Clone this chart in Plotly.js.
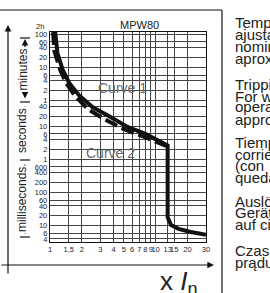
<!DOCTYPE html>
<html><head><meta charset="utf-8">
<script src="https://cdn.plot.ly/plotly-3.0.1.min.js"></script>
<style>html,body{margin:0;padding:0;background:#fff}#chart{width:270px;height:293px}</style>
</head><body><div id="chart"></div>
<script>
// x values: multiples of rated current (x In)
var xTickVals = [1,1.5,2,3,4,5,6,7,8,9,10,13,15,20,30];
var xTickText = ['1','1,5','2','3','4','5','6','7','8','9','10','13','15','20','30'];
// y values: tripping time in seconds
var yTickVals = [6000,3600,2400,1200,600,360,240,120,60,40,20,10,6,4,2,1,0.6,0.4,0.2,0.1,0.06,0.04,0.02,0.01,0.006,0.004];
var yTickText = ['100','60','40','20','10','6','4','2','1','40','20','10','6','4','2','1','600','400','200','100','60','40','20','10','6','4'];
// Curve 1 (solid)
var curve1X = [1.12,1.176,1.32,1.52,1.87,2.52,3.74,5.42,8.0,10.5,12.5,13,13,14,16.5,21,30];
var curve1Y = [7200,1670,512,207,90,39,19.4,9.7,6.0,3.8,2.9,2.7,0.018,0.0105,0.0081,0.0066,0.0054];
// Curve 2 (dashed)
var curve2X = [1.07,1.1,1.25,1.42,1.72,2.3,3.35,4.9,7.3,10,12.2,13];
var curve2Y = [7200,1900,512,207,85,33,16,8.6,5.3,3.4,2.7,2.6];

var FONT = 'Liberation Sans, Arial, sans-serif';
var W = 270, H = 293, L = 50, R = 64, T = 32, B = 51;
var pw = W - L - R, ph = H - T - B;
function px(x){ return (x - L) / pw; }
function py(y){ return (H - B - y) / ph; }

var traces = [
  {x: curve1X, y: curve1Y, mode: 'lines', line: {color: '#111', width: 4}, hoverinfo: 'skip'},
  {x: curve2X, y: curve2Y, mode: 'lines', line: {color: '#111', width: 4, dash: '13px,5px'}, hoverinfo: 'skip'}
];

var ann = [];
function txt(t, x, y, size, opts){
  var a = {text: t, x: px(x), y: py(y), xref: 'paper', yref: 'paper', showarrow: false,
    font: {family: FONT, size: size, color: '#222'}, xanchor: 'left', yanchor: 'middle'};
  for (var k in opts) a[k] = opts[k];
  ann.push(a);
}
txt('MPW80', 139, 25, 11, {xanchor: 'center'});
txt('2h', 46, 26, 7.5, {xanchor: 'right'});
txt('Curve 1', 96, 88, 14, {font: {family: FONT, size: 14, color: '#6a6a6a'}});
txt('Curve 2', 84, 153, 14, {font: {family: FONT, size: 14, color: '#6a6a6a'}});
txt('x <i>I</i><sub>n</sub>', 158, 282, 26, {});
// side text
var sideLines = [
  ['Tempos de disparo', 23], ['ajustados para', 35], ['nominal', 46], ['aproximados', 58],
  ['Tripping times', 84], ['For which the', 96], ['operates', 107], ['approximately', 119],
  ['Tiempos de disparo', 142], ['corriente', 154], ['(con', 165], ['quedan', 177],
  ['Auslösezeiten', 201], ['Geräte', 212], ['auf circa', 224],
  ['Czas zadziałania', 250], ['prądu', 262]
];
sideLines.forEach(function(s){ txt(s[0], 233, s[1], 15, {}); });

// unit brackets
function bracket(label, y0, y1, x){
  ann.push({x: px(x), y: py(y0), xref: 'paper', yref: 'paper', ax: 0, ay: (y1 - y0), axref: 'pixel', ayref: 'pixel',
    showarrow: true, arrowhead: 2, startarrowhead: 2, arrowside: 'end+start', arrowsize: 1, startarrowsize: 1, arrowwidth: 1.3, arrowcolor: '#111', text: ''});
  txt(label, x - 3, (y0 + y1) / 2, 12, {xanchor: 'center', textangle: -90, bgcolor: '#fff'});
}
bracket('minutes', 39, 100, 25);
bracket('seconds', 106, 156, 25);
bracket('milliseconds', 164, 236, 25);
// axis arrows
ann.push({x: px(8), y: py(25), xref: 'paper', yref: 'paper', ax: 0, ay: 250, showarrow: true, arrowhead: 2, arrowsize: 1.1, arrowwidth: 1.2, arrowcolor: '#111', text: ''});
ann.push({x: px(214), y: py(265), xref: 'paper', yref: 'paper', ax: -214, ay: 0, showarrow: true, arrowhead: 2, arrowsize: 1.1, arrowwidth: 1.2, arrowcolor: '#111', text: ''});

var shapes = [];
function seg(x0, y0, x1, y1, w){
  shapes.push({type: 'line', xref: 'paper', yref: 'paper', x0: px(x0), y0: py(y0), x1: px(x1), y1: py(y1), line: {color: '#111', width: w || 1}});
}
seg(0, 10, 222, 10, 1.2);
seg(222, 10, 222, 293, 1.2);
[38, 102, 160, 237].forEach(function(y){ seg(20, y, 30, y, 1.2); });

var layout = {
  width: W, height: H, margin: {l: L, r: R, t: T, b: B}, showlegend: false,
  paper_bgcolor: '#fff', plot_bgcolor: '#fff',
  font: {family: FONT, size: 8, color: '#222'},
  xaxis: {type: 'log', range: [0, Math.log10(30)], tickmode: 'array', tickvals: xTickVals, ticktext: xTickText, tickangle: 0,
    showgrid: true, gridcolor: '#444', gridwidth: 1, showline: true, linecolor: '#111', linewidth: 1.2, mirror: true,
    ticks: '', zeroline: false, tickfont: {size: 7.5, family: FONT, color: '#222'}, fixedrange: true},
  yaxis: {type: 'log', range: [Math.log10(0.00324), Math.log10(7200)], tickmode: 'array', tickvals: yTickVals, ticktext: yTickText,
    showgrid: true, gridcolor: '#444', gridwidth: 1, showline: true, linecolor: '#111', linewidth: 1.2, mirror: true,
    ticks: '', zeroline: false, tickfont: {size: 7.5, family: FONT, color: '#222'}, fixedrange: true},
  annotations: ann, shapes: shapes
};
Plotly.newPlot('chart', traces, layout, {displayModeBar: false, staticPlot: true});
</script></body></html>
